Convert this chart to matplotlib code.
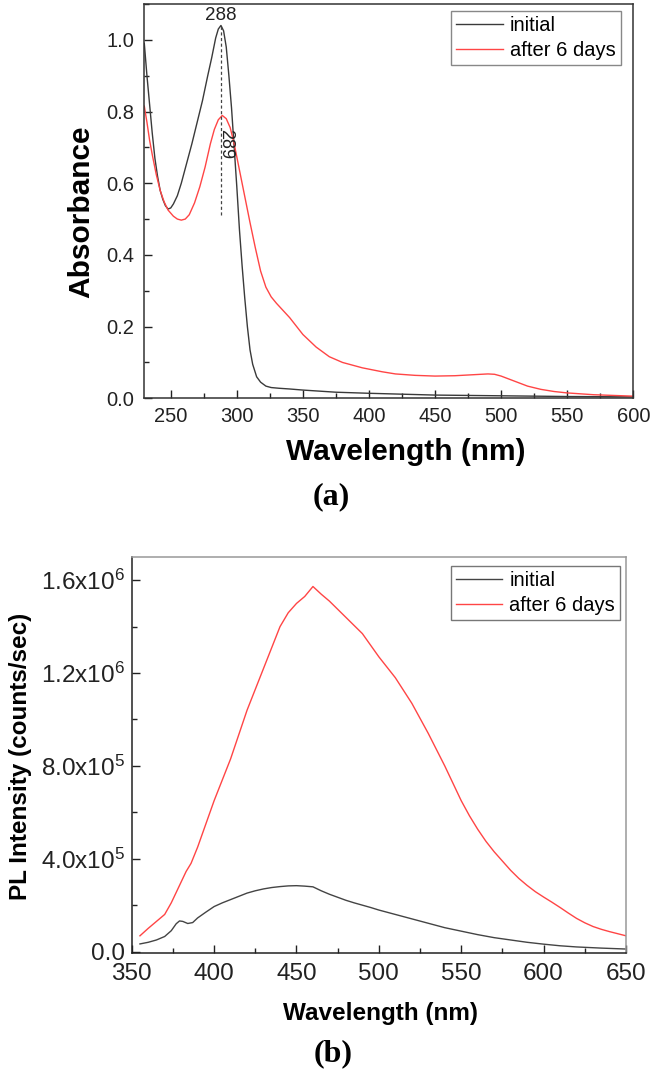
import matplotlib
matplotlib.use('Agg')
import matplotlib.pyplot as plt
from matplotlib.ticker import MultipleLocator, FixedLocator


# (a) absorbance spectra
abs_wl_initial = [230, 232, 234, 236, 238, 240, 242, 244, 246, 248,
                  250, 252, 255, 258, 262, 266, 270, 274, 278, 281,
                  284, 286, 288, 290, 292, 294, 296, 298, 300, 302,
                  304, 306, 308, 310, 312, 315, 318, 322, 326, 332,
                  340, 350, 375, 400, 450, 500, 550, 600]
abs_initial = [0.99, 0.90, 0.82, 0.74, 0.67, 0.62, 0.58, 0.555, 0.537, 0.528,
               0.531, 0.542, 0.565, 0.60, 0.655, 0.71, 0.77, 0.83, 0.90, 0.95,
               1.005, 1.03, 1.04, 1.025, 0.98, 0.90, 0.81, 0.70, 0.59, 0.47,
               0.37, 0.28, 0.20, 0.135, 0.095, 0.06, 0.045, 0.034, 0.030, 0.028,
               0.026, 0.023, 0.017, 0.014, 0.009, 0.007, 0.005, 0.004]

abs_wl_aged = [230, 232, 234, 236, 239, 242, 245, 248, 252, 255,
               258, 261, 264, 268, 272, 276, 280, 283, 286, 289,
               292, 295, 298, 301, 304, 307, 310, 314, 318, 322,
               326, 330, 335, 340, 350, 360, 370, 380, 395, 410,
               420, 435, 450, 465, 480, 490, 495, 500, 510, 520,
               530, 540, 550, 570, 600]
abs_aged = [0.815, 0.77, 0.72, 0.68, 0.625, 0.58, 0.548, 0.525, 0.508, 0.500,
            0.497, 0.500, 0.512, 0.545, 0.59, 0.645, 0.71, 0.75, 0.777, 0.789,
            0.78, 0.755, 0.71, 0.655, 0.60, 0.545, 0.49, 0.42, 0.355, 0.31,
            0.283, 0.265, 0.245, 0.225, 0.178, 0.143, 0.116, 0.100, 0.085, 0.074,
            0.068, 0.064, 0.062, 0.063, 0.066, 0.068, 0.067, 0.062, 0.048, 0.034,
            0.025, 0.019, 0.015, 0.010, 0.006]

# (b) photoluminescence spectra
pl_wl_aged = [355, 360, 365, 370, 374, 377, 380, 383, 386, 390,
              395, 400, 405, 410, 415, 420, 425, 430, 435, 440,
              445, 450, 455, 460, 465, 470, 475, 480, 485, 490,
              495, 500, 505, 510, 515, 520, 525, 530, 535, 540,
              545, 550, 555, 560, 565, 570, 575, 580, 585, 590,
              595, 600, 605, 610, 615, 620, 625, 630, 635, 640,
              645, 650]
pl_aged = [0.068e6, 0.10e6, 0.13e6, 0.16e6, 0.21e6, 0.255e6, 0.30e6, 0.345e6, 0.38e6, 0.45e6,
           0.55e6, 0.65e6, 0.74e6, 0.83e6, 0.935e6, 1.04e6, 1.13e6, 1.22e6, 1.31e6, 1.40e6,
           1.46e6, 1.50e6, 1.53e6, 1.573e6, 1.54e6, 1.51e6, 1.475e6, 1.44e6, 1.405e6, 1.37e6,
           1.32e6, 1.27e6, 1.225e6, 1.18e6, 1.125e6, 1.07e6, 1.005e6, 0.94e6, 0.87e6, 0.80e6,
           0.725e6, 0.65e6, 0.585e6, 0.527e6, 0.475e6, 0.43e6, 0.39e6, 0.35e6, 0.315e6, 0.285e6,
           0.258e6, 0.235e6, 0.213e6, 0.19e6, 0.166e6, 0.143e6, 0.124e6, 0.108e6, 0.096e6, 0.086e6,
           0.077e6, 0.068e6]

pl_wl_initial = [355, 360, 365, 370, 374, 377, 379, 381, 384, 387,
                 390, 395, 400, 405, 410, 415, 420, 425, 430, 435,
                 440, 445, 450, 455, 460, 465, 470, 475, 480, 485,
                 490, 495, 500, 510, 520, 530, 540, 550, 560, 570,
                 580, 590, 600, 610, 620, 635, 650]
pl_initial = [0.033e6, 0.04e6, 0.05e6, 0.065e6, 0.09e6, 0.12e6, 0.132e6, 0.13e6, 0.121e6, 0.125e6,
              0.145e6, 0.17e6, 0.194e6, 0.21e6, 0.224e6, 0.238e6, 0.252e6, 0.262e6, 0.27e6, 0.276e6,
              0.28e6, 0.283e6, 0.284e6, 0.282e6, 0.279e6, 0.262e6, 0.247e6, 0.234e6, 0.221e6, 0.21e6,
              0.20e6, 0.19e6, 0.179e6, 0.16e6, 0.141e6, 0.122e6, 0.103e6, 0.088e6, 0.073e6, 0.06e6,
              0.05e6, 0.04e6, 0.032e6, 0.025e6, 0.02e6, 0.015e6, 0.011e6]

pl_yticks = [0, 4e5, 8e5, 1.2e6, 1.6e6]
pl_yticklabels = ['0.0', '4.0x10$^{5}$', '8.0x10$^{5}$', '1.2x10$^{6}$', '1.6x10$^{6}$']

legend_labels = ['initial', 'after 6 days']

plt.rcParams['font.family'] = ['Liberation Sans', 'DejaVu Sans']
plt.rcParams['mathtext.fontset'] = 'custom'
plt.rcParams['mathtext.rm'] = 'Liberation Sans'
plt.rcParams['mathtext.it'] = 'Liberation Sans:italic'
plt.rcParams['mathtext.bf'] = 'Liberation Sans:bold'

BLACK = '#3a3a3a'
RED = '#ff4545'

fig = plt.figure(figsize=(6.69, 10.71), dpi=100)

# ---------- panel (a) ----------
ax1 = fig.add_axes([0.2157, 0.6281, 0.7309, 0.3682])
ax1.plot(abs_wl_initial, abs_initial, color=BLACK, lw=1.0, label=legend_labels[0])
ax1.plot(abs_wl_aged, abs_aged, color=RED, lw=1.0, label=legend_labels[1])
ax1.plot([288, 288], [0.51, 1.04], color='#444444', lw=0.9, linestyle=(0, (2.5, 2)))
ax1.text(288, 1.068, '288', ha='center', va='center', fontsize=13.5, color='#222222')
ax1.text(291.5, 0.709, '289', ha='center', va='center', rotation=-90,
         fontsize=13, color='#222222')

ax1.set_xlim(230, 600)
ax1.set_ylim(0, 1.1)
ax1.xaxis.set_major_locator(FixedLocator([250, 300, 350, 400, 450, 500, 550, 600]))
ax1.xaxis.set_minor_locator(MultipleLocator(25))
ax1.yaxis.set_major_locator(MultipleLocator(0.2))
ax1.yaxis.set_minor_locator(MultipleLocator(0.1))
ax1.yaxis.set_major_formatter(plt.FuncFormatter(lambda v, p: f'{v:.1f}'))
ax1.tick_params(which='both', direction='in', top=False, right=False,
                color='#222222', labelcolor='#222222', width=1.0)
ax1.tick_params(which='major', length=6, labelsize=14.5, pad=6)
ax1.tick_params(axis='y', which='major', pad=7)
ax1.tick_params(which='minor', length=3.5)
for s in ax1.spines.values():
    s.set_color('#333333')
    s.set_linewidth(1.1)

ax1.set_xlabel('Wavelength (nm)', fontsize=21.5, fontweight='bold', va='center')
ax1.xaxis.set_label_coords(0.535, -0.136)
ax1.set_ylabel('Absorbance', fontsize=21.5, fontweight='bold', va='center')
ax1.yaxis.set_label_coords(-0.129, 0.473)

leg1 = ax1.legend(loc='upper right', bbox_to_anchor=(0.974, 0.983), borderaxespad=0,
                  fontsize=14.5, frameon=True, fancybox=False, framealpha=1,
                  edgecolor='#888888', handlelength=2.3, handletextpad=0.35,
                  labelspacing=0.3, borderpad=0.25)
leg1.get_frame().set_linewidth(1.0)

fig.text(0.495, 1 - 497 / 1071, '(a)', ha='center', va='center', fontsize=23,
         fontweight='bold', family='Liberation Serif')

# ---------- panel (b) ----------
ax2 = fig.add_axes([0.1969, 0.1102, 0.7388, 0.3697])
ax2.plot(pl_wl_initial, pl_initial, color='#444444', lw=1.0, label=legend_labels[0])
ax2.plot(pl_wl_aged, pl_aged, color=RED, lw=1.0, label=legend_labels[1])

ax2.set_xlim(350, 650)
ax2.set_ylim(-6e3, 1.7e6)
ax2.xaxis.set_major_locator(MultipleLocator(50))
ax2.xaxis.set_minor_locator(MultipleLocator(25))
ax2.set_yticks(pl_yticks)
ax2.set_yticklabels(pl_yticklabels)
ax2.yaxis.set_minor_locator(MultipleLocator(2e5))
ax2.tick_params(which='both', direction='in', top=False, right=False,
                color='#222222', labelcolor='#222222', width=1.0)
ax2.tick_params(which='major', length=6, labelsize=17.5, pad=7)
ax2.tick_params(axis='y', which='major', pad=5)
ax2.tick_params(which='minor', length=3.5)
ax2.spines['left'].set_color('#222222')
ax2.spines['bottom'].set_color('#222222')
ax2.spines['top'].set_color('#999999')
ax2.spines['right'].set_color('#999999')
for s in ax2.spines.values():
    s.set_linewidth(1.1)

ax2.set_xlabel('Wavelength (nm)', fontsize=17.5, fontweight='bold', va='center')
ax2.xaxis.set_label_coords(0.504, -0.153)
ax2.set_ylabel('PL Intensity (counts/sec)', fontsize=17.5, fontweight='bold', va='center')
ax2.yaxis.set_label_coords(-0.225, 0.497)

leg2 = ax2.legend(loc='upper right', bbox_to_anchor=(0.988, 0.977), borderaxespad=0,
                  fontsize=14.5, frameon=True, fancybox=False, framealpha=1,
                  edgecolor='#777777', handlelength=2.3, handletextpad=0.35,
                  labelspacing=0.3, borderpad=0.25)
leg2.get_frame().set_linewidth(1.0)

fig.text(0.498, 1 - 1054 / 1071, '(b)', ha='center', va='center', fontsize=23,
         fontweight='bold', family='Liberation Serif')

fig.savefig('out.png', dpi=100)
